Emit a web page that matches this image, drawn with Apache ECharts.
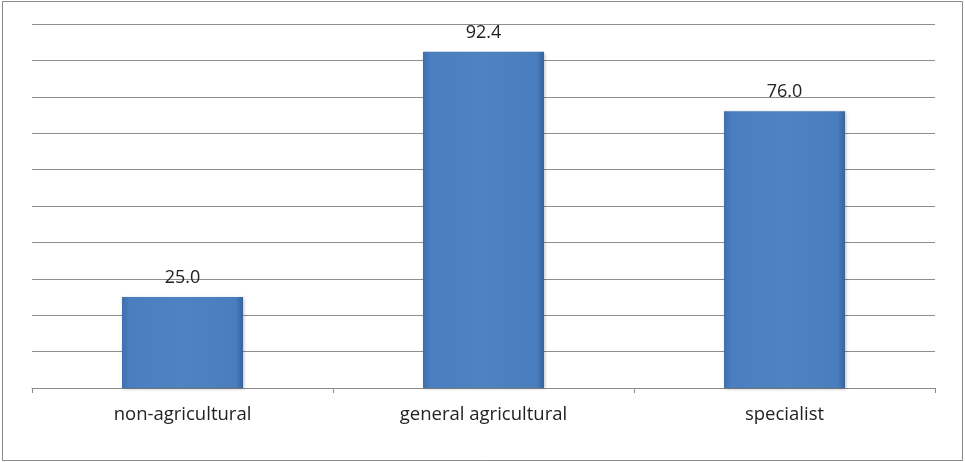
<!DOCTYPE html>
<html><head><meta charset="utf-8">
<script src="https://cdn.jsdelivr.net/npm/echarts@6/dist/echarts.min.js"></script>
<style>html,body{margin:0;padding:0;background:#fff}#c{width:965px;height:462px}</style>
</head><body><div id="c"></div>
<script>
const categories = ["non-agricultural", "general agricultural", "specialist"];
const values = [25.0, 92.4, 76.0];
const yMin = 0, yMax = 100, yInterval = 10;

const chart = echarts.init(document.getElementById('c'), null, {renderer: 'canvas'});
chart.setOption({
  animation: false,
  backgroundColor: '#fff',
  graphic: [{
    type: 'rect', shape: {x: 2.5, y: 1.5, width: 960, height: 459},
    style: {fill: 'none', stroke: '#8a8a8a', lineWidth: 1}, silent: true
  }],
  grid: {left: 32, right: 30, top: 24, bottom: 74, containLabel: false},
  xAxis: {
    type: 'category', data: categories,
    axisLine: {lineStyle: {color: '#8a8a8a', width: 1}},
    axisTick: {show: true, length: 5, lineStyle: {color: '#8a8a8a'}},
    axisLabel: {color: '#222', fontFamily: 'Open Sans, Noto Sans, sans-serif', fontSize: 18.5, margin: 17}
  },
  yAxis: {
    type: 'value', min: yMin, max: yMax, interval: yInterval,
    axisLabel: {show: false}, axisLine: {show: false}, axisTick: {show: false},
    splitLine: {lineStyle: {color: '#8e8e8e', width: 1}}
  },
  series: [{
    type: 'bar', data: values, barWidth: 121,
    itemStyle: {
      color: new echarts.graphic.LinearGradient(0, 0, 1, 0, [
        {offset: 0, color: '#3d6fae'},
        {offset: 0.06, color: '#4a7ebf'},
        {offset: 0.5, color: '#4f82c0'},
        {offset: 0.94, color: '#4a7dbd'},
        {offset: 1, color: '#36639c'}
      ]),
      shadowColor: 'rgba(0,0,0,0.25)', shadowBlur: 3, shadowOffsetX: 1, shadowOffsetY: 1
    },
    label: {
      show: true, position: 'top', distance: 10,
      formatter: p => p.value.toFixed(1),
      color: '#222', fontFamily: 'Open Sans, Noto Sans, sans-serif', fontSize: 18
    }
  }]
});
</script></body></html>
